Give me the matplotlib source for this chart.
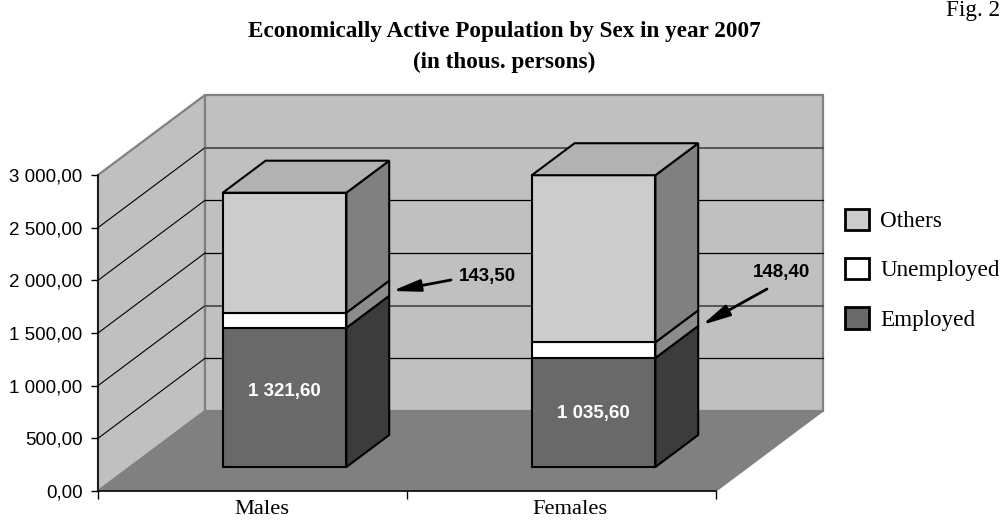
import matplotlib
matplotlib.use("Agg")
import matplotlib.pyplot as plt
from matplotlib.patches import Polygon, Patch
from matplotlib.transforms import ScaledTranslation

# Values in thousands of persons
categories = ["Males", "Females"]
series_names = ["Employed", "Unemployed", "Others"]
employed = [1321.6, 1035.6]
unemployed = [143.5, 148.4]
others = [1139.0, 1586.0]
value_ticks = [0, 500, 1000, 1500, 2000, 2500, 3000]

W, H = 1003, 520
FRONT_L, FRONT_R, FRONT_B, FRONT_T = 98, 716, 491, 175
VMAX = 3000.0
CAT_PX = (FRONT_R - FRONT_L) / 2.0
PX_PER_VALUE = (FRONT_B - FRONT_T) / VMAX
DEPTH_X = 107 / CAT_PX           # horizontal shift of the full depth, in category units
DEPTH_Y = 80 / PX_PER_VALUE      # vertical shift of the full depth, in value units

SANS = "Liberation Sans"
SERIF = "Liberation Serif"

fig = plt.figure(figsize=(W / 100, H / 100), dpi=100, facecolor="white")
ax = fig.add_axes([FRONT_L / W, (H - FRONT_B) / H, (FRONT_R - FRONT_L) / W, (FRONT_B - FRONT_T) / H])
ax.set_xlim(0, 2)
ax.set_ylim(0, VMAX)
ax.patch.set_visible(False)


def oblique(x, v, d):
    """Project category position x, value v and depth d (0 front, 1 back) onto the axes."""
    return (x + d * DEPTH_X, v + d * DEPTH_Y)


def face(points, **kw):
    kw.setdefault("joinstyle", "miter")
    ax.add_patch(Polygon([oblique(*p) for p in points], closed=True, clip_on=False, **kw))


# Chart box: floor and two walls
face([(0, 0, 0), (2, 0, 0), (2, 0, 1), (0, 0, 1)], facecolor="#808080", edgecolor="#808080", lw=1, zorder=1)
face([(0, 0, 0), (0, VMAX, 0), (0, VMAX, 1), (0, 0, 1)], facecolor="#c0c0c0", edgecolor="#808080", lw=1.6, zorder=1)
face([(0, 0, 1), (2, 0, 1), (2, VMAX, 1), (0, VMAX, 1)], facecolor="#c0c0c0", edgecolor="#808080", lw=1.6, zorder=1)

# Gridlines run across the left wall and then along the back wall
for v in value_ticks[1:-1]:
    pts = [oblique(0, v, 0), oblique(0, v, 1), oblique(2, v, 1)]
    ax.plot(*zip(*pts[:2]), color="black", lw=0.8, zorder=2, clip_on=False)
    heavy = v in (1000, 2500)
    ax.plot(*zip(*pts[1:]), color="#555555" if heavy else "black", lw=1.4 if heavy else 0.9,
            zorder=2, clip_on=False)

# Stacked blocks: front, side and top faces
BAR_W = 0.4
D0, D1 = 0.3, 0.7
front_colors = ["#696969", "#ffffff", "#cccccc"]
side_colors = ["#3c3c3c", "#8c8c8c", "#808080"]
TOP_COLOR = "#b2b2b2"
for c in range(len(categories)):
    x0 = c + 0.5 - BAR_W / 2
    x1 = c + 0.5 + BAR_W / 2
    base = 0.0
    for vals, fc, sc in zip([employed, unemployed, others], front_colors, side_colors):
        top = base + vals[c]
        style = dict(edgecolor="black", lw=1.5, zorder=3)
        face([(x1, base, D0), (x1, base, D1), (x1, top, D1), (x1, top, D0)], facecolor=sc, **style)
        face([(x0, base, D0), (x1, base, D0), (x1, top, D0), (x0, top, D0)], facecolor=fc, **style)
        base = top
    face([(x0, base, D0), (x1, base, D0), (x1, base, D1), (x0, base, D1)], facecolor=TOP_COLOR,
         edgecolor="black", lw=1.5, zorder=3)

# Value labels inside the employed blocks
for c, nudge in zip(range(len(categories)), (6, -1)):
    label = f"{employed[c]:,.2f}".replace(",", " ").replace(".", ",")
    ax.annotate(label, oblique(c + 0.5, employed[c] / 2, D0), xytext=(0, nudge * 0.72), textcoords="offset points",
                color="white", fontsize=13.5, fontweight="bold", family=SANS,
                ha="center", va="center", zorder=5)

# Callouts for the unemployed segments
for tail, tip in zip([(451, 280), (767, 289)], [(392, 291), (702, 325)]):
    ax.annotate("", xy=(tip[0], H - tip[1]), xytext=(tail[0], H - tail[1]), xycoords="figure pixels",
                textcoords="figure pixels", zorder=6,
                arrowprops=dict(arrowstyle="-|>,head_length=1.4,head_width=0.3", color="black", lw=2,
                                mutation_scale=12, shrinkA=0, shrinkB=0))
for c, pos in zip(range(len(categories)), [(487, 277), (782, 273)]):
    label = f"{unemployed[c]:.2f}".replace(".", ",")
    fig.text(pos[0] / W, 1 - pos[1] / H, label, fontsize=13.5, fontweight="bold", family=SANS,
             ha="center", va="center", color="black")

# Axes furniture
for side in ("top", "right"):
    ax.spines[side].set_visible(False)
for side in ("left", "bottom"):
    ax.spines[side].set_color("black")
    ax.spines[side].set_linewidth(1.1)
    ax.spines[side].set_zorder(4)

ax.set_yticks(value_ticks)
ax.set_yticklabels([f"{v:,.2f}".replace(",", " ").replace(".", ",") for v in value_ticks],
                   family=SANS, fontsize=13.5)
ax.tick_params(axis="y", length=5, width=1, pad=6)
ax.set_xticks([0, 1, 2])
ax.set_xticklabels([])
ax.tick_params(axis="x", which="major", length=6, width=1)
ax.set_xticks([0.5, 1.5], minor=True)
ax.set_xticklabels(categories, minor=True, family=SERIF, fontsize=16.2)
ax.tick_params(axis="x", which="minor", length=0, pad=6.5)
for lbl in ax.get_xticklabels(minor=True):
    lbl.set_transform(lbl.get_transform() + ScaledTranslation(9 / 100, 0, fig.dpi_scale_trans))

# Legend, top entry first
handles = [Patch(facecolor=fc, edgecolor="black", lw=2) for fc in front_colors[::-1]]
leg = fig.legend(handles, series_names[::-1], loc="upper left", bbox_to_anchor=(840 / W, 1 - 204 / H),
                 frameon=False, handlelength=1.04, handleheight=1.05, handletextpad=0.5, labelspacing=1.1,
                 borderpad=0.2, borderaxespad=0, prop=dict(family=SERIF, size=16.7))

# Headings
fig.text(504 / W, 1 - 31 / H, "Economically Active Population by Sex in year 2007", family=SERIF,
         fontweight="bold", fontsize=16.7, ha="center", va="center")
fig.text(504 / W, 1 - 62 / H, "(in thous. persons)", family=SERIF, fontweight="bold", fontsize=16.7,
         ha="center", va="center")
fig.text(1000 / W, 1 - 16 / H, "Fig. 2", family=SERIF, fontsize=16.7, ha="right", va="baseline")

fig.savefig("out.png", dpi=100)
